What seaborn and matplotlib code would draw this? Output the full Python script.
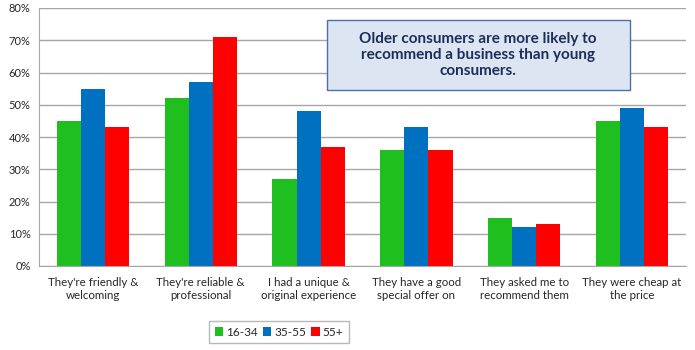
import pandas as pd
import numpy as np
import matplotlib
matplotlib.use("Agg")
import matplotlib.pyplot as plt
from matplotlib.patches import Rectangle
import seaborn as sns

# reasons for recommending a business, by age group (% of respondents)
reasons = ["They're friendly &\nwelcoming", "They're reliable &\nprofessional",
           "I had a unique &\noriginal experience", "They have a good\nspecial offer on",
           "They asked me to\nrecommend them", "They were cheap at\nthe price"]
ages = ["16-34", "35-55", "55+"]
age_16_34 = [45, 52, 27, 36, 15, 45]
age_35_55 = [55, 57, 48, 43, 12, 49]
age_55_plus = [43, 71, 37, 36, 13, 43]

rows = []
for grp, vals in zip(ages, [age_16_34, age_35_55, age_55_plus]):
    for r, v in zip(reasons, vals):
        rows.append({"reason": r, "age": grp, "pct": v})
df = pd.DataFrame(rows)

sns.set_style("white")
plt.rcParams['font.family'] = ['Lato', 'DejaVu Sans']

fig = plt.figure(figsize=(6.95, 3.5), dpi=100)
ax = fig.add_axes([39/695, 1-266/350, (686-39)/695, (266-8)/350])

palette = {"16-34": "#1FBF1F", "35-55": "#0070C0", "55+": "#FF0000"}
sns.barplot(data=df, x="reason", y="pct", hue="age", palette=palette,
            width=0.67, saturation=1, linewidth=0, ax=ax, legend=True)

ax.set_ylim(0, 80)
ax.set_xlim(-0.5, 5.5)
ax.set_yticks(range(0, 81, 10))
ax.set_yticklabels([f"{t}%" for t in range(0, 81, 10)], fontsize=8)
ax.yaxis.grid(True, color="#A6A6A6", linewidth=1)
ax.set_axisbelow(True)
ax.tick_params(axis="y", length=4, color="#A6A6A6", pad=2)
ax.tick_params(axis="x", which="major", length=0, labelsize=8.3, pad=8)
ax.set_xticks(np.arange(-0.5, 6, 1), minor=True)
ax.tick_params(axis="x", which="minor", length=5, color="#A6A6A6")
ax.set_xlabel("")
ax.set_ylabel("")
for s in ["top", "right"]:
    ax.spines[s].set_visible(False)
for s in ["left", "bottom"]:
    ax.spines[s].set_color("#A6A6A6")

leg = ax.legend(loc="center", bbox_to_anchor=(279/695, 1-332/350),
                bbox_transform=fig.transFigure, ncol=3, fontsize=8.5,
                frameon=True, fancybox=False, handlelength=0.7, handleheight=0.8,
                handletextpad=0.25, columnspacing=0.45, borderpad=0.45, borderaxespad=0)
leg.get_frame().set_edgecolor("#A6A6A6")
leg.get_frame().set_linewidth(1)

# callout box
fig.patches.append(Rectangle((327/695, 1-90/350), 303/695, 70/350,
                             transform=fig.transFigure, facecolor="#DCE6F2",
                             edgecolor="#4F6FA5", linewidth=1, zorder=5))
fig.text(478/695, 1-55/350,
         "Older consumers are more likely to\nrecommend a business than young\nconsumers.",
         ha="center", va="center", fontsize=11, fontweight="bold", color="#1F2D5A",
         linespacing=1.2, zorder=6)

fig.savefig("out.png", dpi=100)
